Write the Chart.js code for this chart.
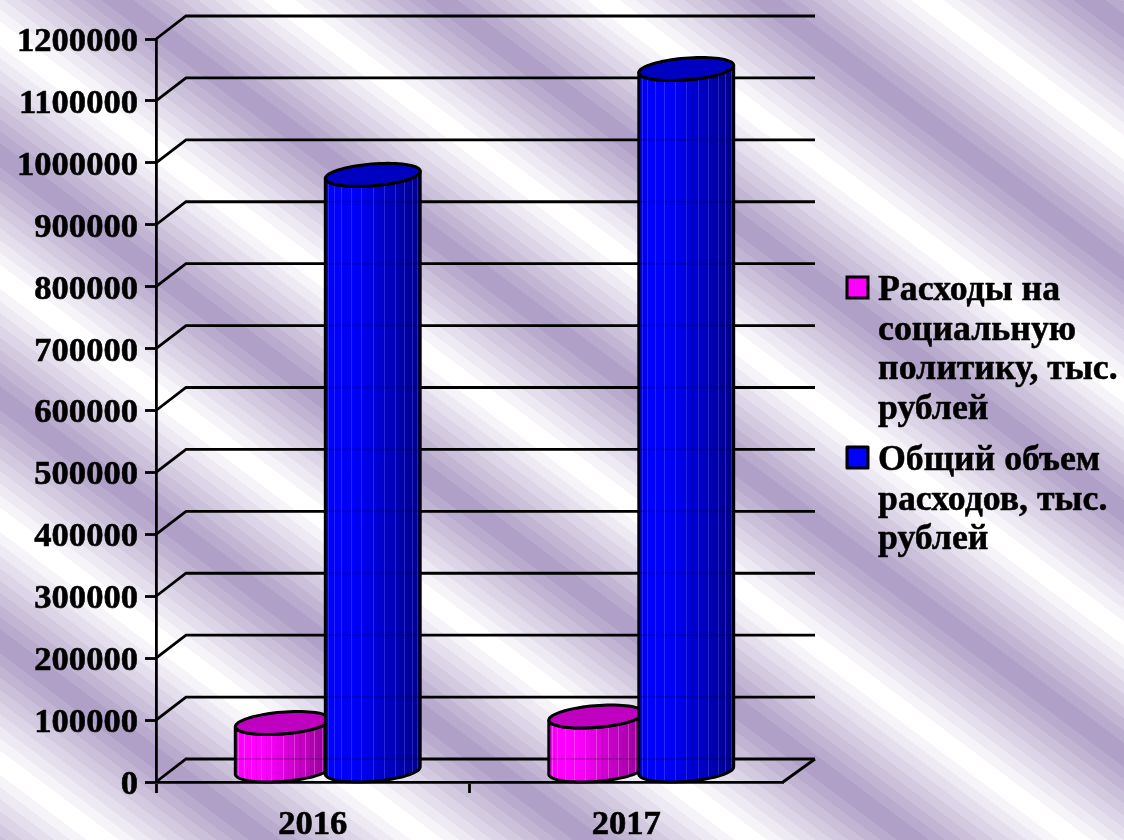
<!DOCTYPE html>
<html lang="ru">
<head>
<meta charset="utf-8">
<title>Расходы</title>
<script src="https://cdn.jsdelivr.net/npm/chart.js@4"></script>
<style>html,body{margin:0;padding:0;background:#fff}canvas{display:block}</style>
</head>
<body>
<canvas id="c" width="1124" height="840"></canvas>
<script>
const categories = ['2016', '2017'];
const socialSpending = [76700, 87200];
const totalSpending = [962000, 1133000];
const seriesNames = ['Расходы на социальную политику, тыс. рублей', 'Общий объем расходов, тыс. рублей'];
const LEGEND_FONT = 'bold 35.8px "Liberation Serif"';
const DEPTH_X = 30, DEPTH_Y = 23;

const palette = [
  {front:[255,0,255], back:[150,0,150], top:'#c000c0', light:'255,190,255', dark:'90,0,90'},
  {front:[0,0,255], back:[0,0,140], top:'#0000c0', light:'130,130,255', dark:'0,0,70'}
];

const stripes = {
  id:'stripes',
  beforeDraw(chart){
    const {ctx, width:w, height:h} = chart;
    const img = ctx.createImageData(w,h), d = img.data;
    const period = 243, steps = 9, lav=[176,160,200];
    let i = 0;
    for(let y=0;y<h;y++) for(let x=0;x<w;x++){
      let t = ((y-0.75*x-155)%period+period)%period/period;
      let m = 1-Math.abs(t-0.5)*2;
      let lv = Math.min(1,Math.floor(m*(steps+1))/steps);
      d[i++]=lav[0]+(255-lav[0])*lv; d[i++]=lav[1]+(255-lav[1])*lv; d[i++]=lav[2]+(255-lav[2])*lv; d[i++]=255;
    }
    ctx.putImageData(img,0,0);
  }
};

function gridPaths(chart){
  const {ctx, scales:{x,y}} = chart, left=x.left, right=x.right;
  ctx.beginPath();
  y.ticks.forEach(t=>{
    const py=y.getPixelForValue(t.value);
    ctx.moveTo(left,py); ctx.lineTo(left+DEPTH_X,py-DEPTH_Y); ctx.lineTo(right+DEPTH_X+2,py-DEPTH_Y);
  });
}

const wall = {
  id:'wall',
  beforeDatasetsDraw(chart){
    const {ctx, scales:{x,y}} = chart, y0=y.getPixelForValue(0);
    ctx.save();
    ctx.strokeStyle='#000'; ctx.lineWidth=2.8; ctx.lineJoin='miter';
    gridPaths(chart); ctx.stroke();
    ctx.beginPath(); ctx.moveTo(x.right,y0); ctx.lineTo(x.right+DEPTH_X+2,y0-DEPTH_Y); ctx.stroke();
    ctx.restore();
  },
  beforeDatasetDraw(){ return false; }
};

function drawCylinder(chart, el, pal){
  const {ctx, scales:{y}} = chart;
  const a = 45, bx = DEPTH_X/2, by = DEPTH_Y/2;
  const cx = el.x+bx, topY = el.y-by, botY = y.getPixelForValue(0)-by;
  const R = Math.sqrt(a*a+bx*bx), th = Math.atan2(bx,a);
  const P = (c,t)=>[cx+a*Math.cos(t)+bx*Math.sin(t), c-by*Math.sin(t)];
  const side = ()=>{
    ctx.beginPath();
    for(let i=0;i<=40;i++){const p=P(topY, th+Math.PI+Math.PI*i/40); i?ctx.lineTo(p[0],p[1]):ctx.moveTo(p[0],p[1]);}
    for(let i=40;i>=0;i--){const p=P(botY, th+Math.PI+Math.PI*i/40); ctx.lineTo(p[0],p[1]);}
    ctx.closePath();
  };
  const g = ctx.createLinearGradient(cx-R,0,cx+R,0);
  const c = v=>`rgb(${v.join(',')})`;
  g.addColorStop(0,c(pal.front)); g.addColorStop(0.3,c(pal.front));
  g.addColorStop(1,c(pal.back));
  ctx.save();
  side(); ctx.fillStyle=g; ctx.fill();
  ctx.save(); side(); ctx.clip();
  for(let k=1;k<26;k++){
    const px=Math.round(cx-R*Math.cos(Math.PI*k/26))+0.5;
    ctx.strokeStyle=k%2?`rgba(${pal.light},.30)`:`rgba(${pal.dark},.12)`;
    ctx.lineWidth=1;
    ctx.beginPath(); ctx.moveTo(px,topY-20); ctx.lineTo(px,botY+20); ctx.stroke();
  }
  ctx.strokeStyle='rgba(0,0,0,.18)'; ctx.lineWidth=2;
  gridPaths(chart); ctx.stroke();
  ctx.restore();
  ctx.strokeStyle='#000'; ctx.lineWidth=3; ctx.lineJoin='round';
  side(); ctx.stroke();
  ctx.beginPath();
  for(let i=0;i<=72;i++){const p=P(topY, Math.PI*2*i/72); i?ctx.lineTo(p[0],p[1]):ctx.moveTo(p[0],p[1]);}
  ctx.closePath(); ctx.fillStyle=pal.top; ctx.fill(); ctx.stroke();
  ctx.restore();
}

const cylinders = {
  id:'cylinders',
  afterDatasetsDraw(chart){
    chart.data.datasets.forEach((ds,i)=>{
      chart.getDatasetMeta(i).data.forEach(el=>drawCylinder(chart,el,palette[i]));
    });
  }
};

const wrappedLegend = {
  id:'wrappedLegend',
  afterDraw(chart){
    const {ctx} = chart, maxW = 250, lh = 39.7;
    const starts = [300, 470];
    ctx.save();
    ctx.font = LEGEND_FONT; ctx.textAlign='left'; ctx.textBaseline='alphabetic';
    chart.data.datasets.forEach((ds,i)=>{
      const lines=[]; let cur='';
      ds.label.split(' ').forEach(w=>{
        const tryL = cur?cur+' '+w:w;
        if(ctx.measureText(tryL).width>maxW){lines.push(cur);cur=w;} else cur=tryL;
      });
      lines.push(cur);
      ctx.fillStyle=ds.backgroundColor; ctx.strokeStyle='#000'; ctx.lineWidth=3;
      ctx.fillRect(847,starts[i]-23,21,21); ctx.strokeRect(847,starts[i]-23,21,21);
      ctx.fillStyle='#000'; ctx.lineWidth=0.5; ctx.lineJoin='round';
      lines.forEach((l,k)=>{ctx.fillText(l,878,starts[i]+k*lh); ctx.strokeText(l,878,starts[i]+k*lh);});
    });
    ctx.restore();
  }
};

const tickFont = {family:'"Liberation Serif"', size:34.6, weight:'bold'};
new Chart(document.getElementById('c'),{
  type:'bar',
  data:{labels:categories,datasets:[
    {label:seriesNames[0],data:socialSpending,backgroundColor:'#ff00ff',barThickness:90},
    {label:seriesNames[1],data:totalSpending,backgroundColor:'#0000ff',barThickness:90}
  ]},
  plugins:[stripes,wall,cylinders,wrappedLegend],
  options:{
    responsive:false, animation:false, devicePixelRatio:1,
    layout:{padding:{top:39,right:341,left:0,bottom:0}},
    plugins:{legend:{display:false},tooltip:{enabled:false},title:{display:false}},
    scales:{
      x:{
        afterFit(s){s.height=58;},
        border:{color:'#000',width:2.8},
        grid:{drawOnChartArea:false,drawTicks:true,tickLength:11,tickWidth:2.8,tickColor:c=>c.tick?'#000':'rgba(0,0,0,0)'},
        ticks:{color:'#000',font:tickFont,padding:11,maxRotation:0,textStrokeColor:'#000',textStrokeWidth:0.6}
      },
      y:{
        min:0,max:1200000,
        afterFit(s){s.width=156;},
        border:{color:'#000',width:2.8},
        grid:{drawOnChartArea:false,drawTicks:true,tickLength:11,tickWidth:2.8,tickColor:'#000'},
        ticks:{color:'#000',font:tickFont,padding:7,labelOffset:3,stepSize:100000,autoSkip:false,callback:v=>String(v),textStrokeColor:'#000',textStrokeWidth:0.6}
      }
    }
  }
});
</script>
</body>
</html>
